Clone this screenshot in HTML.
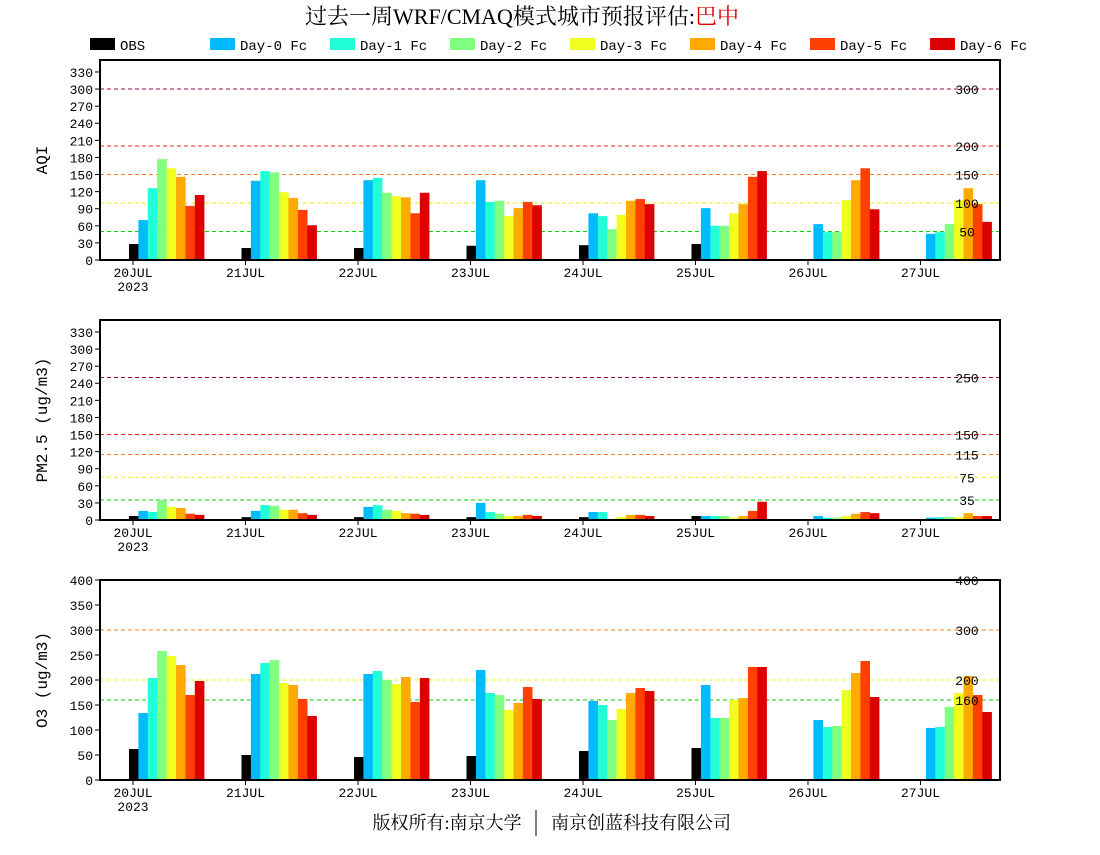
<!DOCTYPE html>
<html><head><meta charset="utf-8"><style>
body{margin:0;background:#fff;}
svg text{font-family:"Liberation Mono","Noto Sans CJK SC",monospace;}
</style></head><body>
<svg id="s" width="1100" height="850" xmlns="http://www.w3.org/2000/svg"></svg>
<script>
const s=document.getElementById('s');let h='';
const cols=['#000','#00bbff','#20ffd8','#80ff80','#f0ff20','#ffaa00','#ff4000','#dd0000'];
h+=`<text x="522" y="24" font-size="22" text-anchor="middle" style="font-family:'Liberation Serif','Noto Serif CJK SC',serif">过去一周WRF/CMAQ模式城市预报评估:<tspan fill="#e00000">巴中</tspan></text>`;
const names=['OBS','Day-0 Fc','Day-1 Fc','Day-2 Fc','Day-3 Fc','Day-4 Fc','Day-5 Fc','Day-6 Fc'];
names.forEach((n,i)=>{h+=`<rect x="${90+i*120}" y="38" width="25" height="12" fill="${cols[i]}"/><text x="${120+i*120}" y="50" font-size="14">${n}</text>`;});
const panels=[
{top:60,ylab:'AQI',max:351,ticks:[0,30,60,90,120,150,180,210,240,270,300,330],
 lines:[[300,'#a00050','300'],[200,'#ff2020','200'],[150,'#ff8020','150'],[100,'#f0f000','100'],[50,'#00d000','50']],
 data:[[28,70,126,177,161,146,95,114],[21,139,156,154,119,109,88,61],[21,140,144,118,112,110,82,118],[25,140,102,104,77,91,102,96],[26,82,77,54,79,104,107,98],[28,91,60,60,82,98,146,156],[0,63,49,49,105,140,161,89],[0,46,49,63,105,126,98,67]]},
{top:320,ylab:'PM2.5 (ug/m3)',max:351,ticks:[0,30,60,90,120,150,180,210,240,270,300,330],
 lines:[[250,'#a00050','250'],[150,'#ff2020','150'],[115,'#ff8020','115'],[75,'#f0f000','75'],[35,'#00d000','35']],
 data:[[7,16,14,35,23,21,11,9],[5,16,26,25,18,18,12,9],[5,23,26,18,16,12,11,9],[5,30,14,11,7,7,9,7],[5,14,14,2,5,9,9,7],[7,7,7,7,4,7,16,32],[0,7,4,4,7,11,14,12],[0,4,5,5,5,12,7,7]]},
{top:580,ylab:'O3 (ug/m3)',max:400,ticks:[0,50,100,150,200,250,300,350,400],
 lines:[[400,'#ff2020','400'],[300,'#ff8020','300'],[200,'#f0f000','200'],[160,'#00d000','160']],
 data:[[62,134,204,258,248,230,170,198],[50,212,234,240,194,190,162,128],[46,212,218,200,192,206,156,204],[48,220,174,170,140,154,186,162],[58,158,150,120,142,174,184,178],[64,190,124,124,160,164,226,226],[0,120,106,108,180,214,238,166],[0,104,106,146,174,208,170,136]]}];
const days=['20JUL','21JUL','22JUL','23JUL','24JUL','25JUL','26JUL','27JUL'];
panels.forEach(p=>{
 const b=p.top+200,sc=200/p.max;const y=v=>b-v*sc;
 p.lines.forEach(l=>{h+=`<line x1="100" x2="1000" y1="${y(l[0])}" y2="${y(l[0])}" stroke="${l[1]}" stroke-dasharray="4,3" stroke-width="1"/>`;});
 p.data.forEach((d,i)=>{const x0=129+i*112.5;d.forEach((v,j)=>{if(v>0)h+=`<rect x="${x0+j*9.4}" y="${y(v)}" width="9.6" height="${v*sc}" fill="${cols[j]}"/>`;});
  const tx=133+i*112.5;h+=`<line x1="${tx}" x2="${tx}" y1="${b}" y2="${b+5}" stroke="#000"/><text x="${tx}" y="${b+17}" font-size="13" text-anchor="middle">${days[i]}</text>`;
  if(i==0)h+=`<text x="${tx}" y="${b+31}" font-size="13" text-anchor="middle">2023</text>`;});
 p.lines.forEach(l=>{h+=`<text x="967" y="${y(l[0])+5}" font-size="13" text-anchor="middle">${l[2]}</text>`;});
 p.ticks.forEach(t=>{h+=`<line x1="95" x2="100" y1="${y(t)}" y2="${y(t)}" stroke="#000"/><text x="93" y="${y(t)+5}" font-size="13" text-anchor="end">${t}</text>`;});
 h+=`<rect x="100" y="${p.top}" width="900" height="200" fill="none" stroke="#000" stroke-width="2"/>`;
 h+=`<text transform="translate(47,${p.top+100}) rotate(-90)" font-size="16" text-anchor="middle">${p.ylab}</text>`;
});
h+=`<text x="447" y="829" font-size="18" text-anchor="middle" style="font-family:'Liberation Serif','Noto Serif CJK SC',serif">版权所有:南京大学</text><line x1="536" x2="536" y1="810" y2="836" stroke="#000"/><text x="641" y="829" font-size="18" text-anchor="middle" style="font-family:'Liberation Serif','Noto Serif CJK SC',serif">南京创蓝科技有限公司</text>`;
s.innerHTML=h;
</script>
</body></html>
